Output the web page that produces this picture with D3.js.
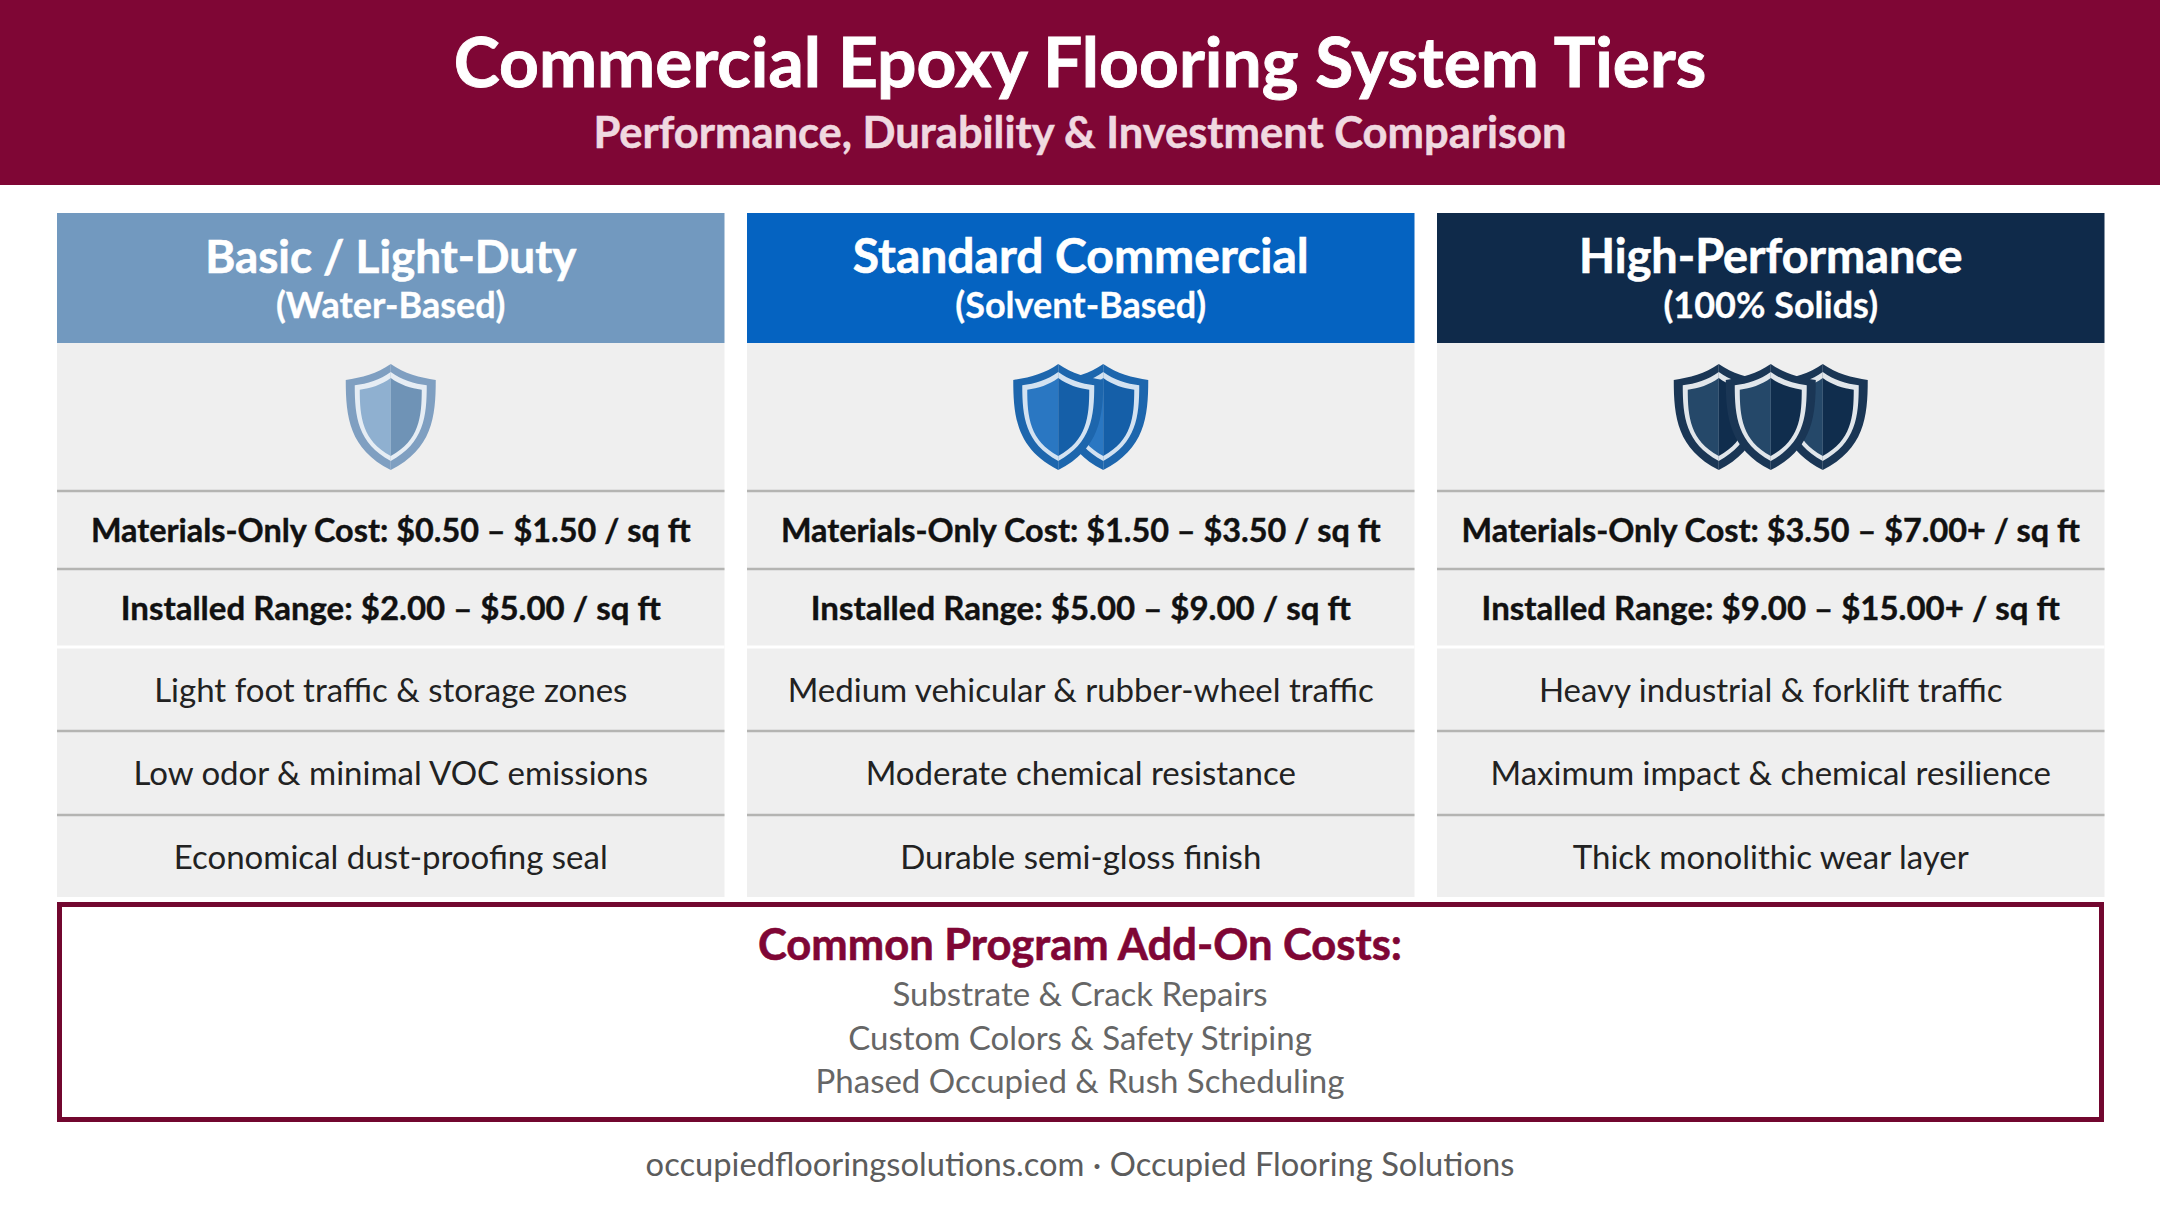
<!DOCTYPE html>
<html>
<head>
<meta charset="utf-8">
<script src="https://cdn.jsdelivr.net/npm/d3@7"></script>
<style>
  html, body { margin: 0; padding: 0; background: #fff; }
  svg { display: block; }
  text { font-family: Lato, sans-serif; text-anchor: middle; }
</style>
</head>
<body>
<svg id="chart" width="2160" height="1206"></svg>
<script>
const title = 'Commercial Epoxy Flooring System Tiers'
const subtitle = 'Performance, Durability & Investment Comparison'

const tiers = ['Basic / Light-Duty', 'Standard Commercial', 'High-Performance']
const tierTypes = ['(Water-Based)', '(Solvent-Based)', '(100% Solids)']
const shieldCounts = [1, 2, 3]
const materialCosts = ['Materials-Only Cost: $0.50 – $1.50 / sq ft', 'Materials-Only Cost: $1.50 – $3.50 / sq ft', 'Materials-Only Cost: $3.50 – $7.00+ / sq ft']
const installedCosts = ['Installed Range: $2.00 – $5.00 / sq ft', 'Installed Range: $5.00 – $9.00 / sq ft', 'Installed Range: $9.00 – $15.00+ / sq ft']
const traffic = ['Light foot traffic & storage zones', 'Medium vehicular & rubber-wheel traffic', 'Heavy industrial & forklift traffic']
const resistance = ['Low odor & minimal VOC emissions', 'Moderate chemical resistance', 'Maximum impact & chemical resilience']
const finish = ['Economical dust-proofing seal', 'Durable semi-gloss finish', 'Thick monolithic wear layer']

const addOnTitle = 'Common Program Add-On Costs:'
const addOns = ['Substrate & Crack Repairs', 'Custom Colors & Safety Striping', 'Phased Occupied & Rush Scheduling']
const footer = 'occupiedflooringsolutions.com · Occupied Flooring Solutions'

const crimson = '#7f0635'
const headColors = ['#7299bf', '#0563c1', '#0f2a4a']
// rim, ring, left half, right half
const shieldColors = [
  ['#7f9fc1', '#e6edf4', '#8fb0d0', '#6f93b6'],
  ['#1d66ad', '#d3e2f1', '#2a77c2', '#155fa8'],
  ['#1a3655', '#e1e6eb', '#254869', '#102d4d']
]

const svg = d3.select('#chart')

const xScale = d3.scaleBand()
  .domain(d3.range(tiers.length))
  .range([57, 2127])
  .paddingInner(0)
const colWidth = 667.5

// rows are not evenly tall, so the tops are mapped one by one
const rowKeys = ['head', 'icon', 'materials', 'installed', 'traffic', 'resistance', 'finish', 'end']
const yScale = d3.scaleOrdinal().domain(rowKeys).range([213, 343, 491, 569, 647, 731, 815, 897])

const cols = svg.selectAll('g.col')
  .data(tiers.map((t, i) => i))
  .enter()
  .append('g')
  .attr('class', 'col')
  .attr('transform', (i) => `translate(${xScale(i)},0)`)

svg.append('rect').attr('width', 2160).attr('height', 185).attr('fill', crimson)

svg.append('text')
  .attr('x', 1080).attr('y', 87)
  .attr('font-size', 69.5).attr('font-weight', 700)
  .attr('fill', '#fff').attr('stroke', '#fff').attr('stroke-width', 0.9)
  .text(title)

svg.append('text')
  .attr('x', 1080).attr('y', 148)
  .attr('font-size', 43.5).attr('font-weight', 700)
  .attr('fill', '#f0d9e0').attr('stroke', '#f0d9e0').attr('stroke-width', 0.5)
  .text(subtitle)

cols.append('rect')
  .attr('y', yScale('icon'))
  .attr('width', colWidth)
  .attr('height', yScale('end') - yScale('icon'))
  .attr('fill', '#efefef')

cols.append('rect')
  .attr('y', yScale('head'))
  .attr('width', colWidth)
  .attr('height', yScale('icon') - yScale('head'))
  .attr('fill', (i) => headColors[i])

// font sizes per column, the reference letters differ a bit in width
const tierSizes = [45.8, 48, 46.8]
cols.append('text')
  .attr('x', colWidth / 2).attr('y', 273)
  .attr('font-size', (i) => tierSizes[i]).attr('font-weight', 700)
  .attr('fill', '#fff').attr('stroke', '#fff').attr('stroke-width', 0.6)
  .text((i) => tiers[i])

cols.append('text')
  .attr('x', colWidth / 2).attr('y', 318)
  .attr('font-size', 36).attr('font-weight', 700)
  .attr('fill', '#fff').attr('stroke', '#fff').attr('stroke-width', 0.3)
  .text((i) => tierTypes[i])

// separators
const lineRows = ['materials', 'installed', 'resistance', 'finish']
cols.selectAll('line.sep')
  .data(lineRows)
  .enter()
  .append('line')
  .attr('class', 'sep')
  .attr('x1', 0).attr('x2', colWidth)
  .attr('y1', (r) => yScale(r)).attr('y2', (r) => yScale(r))
  .attr('stroke', '#b4b4b2').attr('stroke-width', 2.5)

cols.append('line')
  .attr('x1', 0).attr('x2', colWidth)
  .attr('y1', yScale('traffic')).attr('y2', yScale('traffic'))
  .attr('stroke', '#fff').attr('stroke-width', 3)

function halfPath(cx, top, w, h, side) {
  const p = d3.path()
  const px = (u) => cx + side * u * w / 2
  const py = (v) => top + v * h
  p.moveTo(px(0), py(0))
  p.bezierCurveTo(px(0.3), py(0.09), px(0.65), py(0.13), px(1), py(0.15))
  p.bezierCurveTo(px(1), py(0.5), px(0.92), py(0.8), px(0), py(1))
  p.closePath()
  return p.toString()
}

function drawLayer(g, cx, top, w, h, leftColor, rightColor) {
  g.append('path').attr('d', halfPath(cx, top, w, h, -1)).attr('fill', leftColor)
  g.append('path').attr('d', halfPath(cx, top, w, h, 1)).attr('fill', rightColor)
}

function drawShield(g, cx, colors) {
  const top = 364, w = 90, h = 106
  drawLayer(g, cx, top, w, h, colors[0], colors[0])
  drawLayer(g, cx, top + 8, w - 18, h - 17, colors[1], colors[1])
  drawLayer(g, cx, top + 14, w - 28, h - 28, colors[2], colors[3])
}

// draw order decides which shield lies on top
const shieldOrder = [[0], [1, 0], [0, 2, 1]]
const shieldStep = [0, 45, 52]
cols.each(function (i) {
  const g = d3.select(this)
  const n = shieldCounts[i]
  shieldOrder[i].forEach((k) => {
    drawShield(g, colWidth / 2 + (k - (n - 1) / 2) * shieldStep[i], shieldColors[i])
  })
})

cols.append('text')
  .attr('x', colWidth / 2).attr('y', 542)
  .attr('font-size', 32.4).attr('font-weight', 700)
  .attr('fill', '#111').attr('stroke', '#111').attr('stroke-width', 0.4)
  .text((i) => materialCosts[i])

cols.append('text')
  .attr('x', colWidth / 2).attr('y', 620)
  .attr('font-size', 33).attr('font-weight', 700)
  .attr('fill', '#111').attr('stroke', '#111').attr('stroke-width', 0.4)
  .text((i) => installedCosts[i])

const plainRows = [[traffic, 702], [resistance, 785], [finish, 869]]
plainRows.forEach(([values, base]) => {
  cols.append('text')
    .attr('x', colWidth / 2).attr('y', base)
    .attr('font-size', 33).attr('font-weight', 400)
    .attr('fill', '#222')
    .text((i) => values[i])
})

// add-on box
svg.append('rect')
  .attr('x', 59.5).attr('y', 904.5)
  .attr('width', 2042).attr('height', 215)
  .attr('fill', '#fff')
  .attr('stroke', '#72072f').attr('stroke-width', 5)

svg.append('text')
  .attr('x', 1080).attr('y', 960)
  .attr('font-size', 43.5).attr('font-weight', 700)
  .attr('fill', crimson).attr('stroke', crimson).attr('stroke-width', 0.6)
  .text(addOnTitle)

const addOnBase = d3.scaleLinear().domain([0, 2]).range([1006, 1093])
svg.selectAll('text.addon')
  .data(addOns)
  .enter()
  .append('text')
  .attr('class', 'addon')
  .attr('x', 1080).attr('y', (d, i) => addOnBase(i))
  .attr('font-size', 33)
  .attr('fill', '#666')
  .text((d) => d)

svg.append('text')
  .attr('x', 1080).attr('y', 1176)
  .attr('font-size', 32.7)
  .attr('fill', '#5c5c5c')
  .text(footer)
</script>
</body>
</html>
